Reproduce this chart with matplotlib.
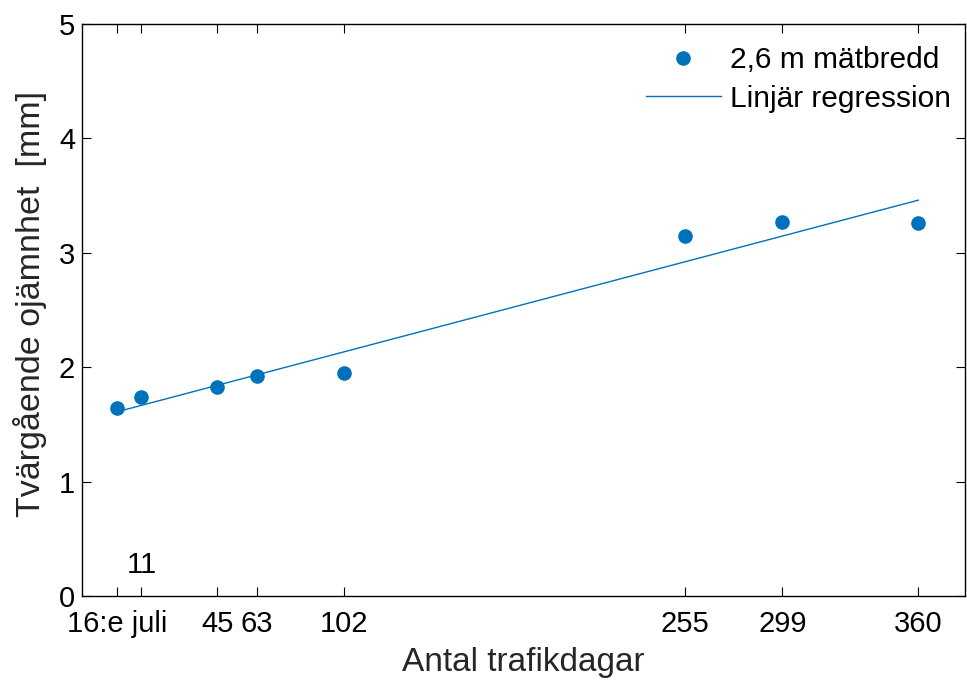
import numpy as np
import matplotlib
matplotlib.use("Agg")
from matplotlib import pyplot as plt

plt.rcParams['font.family'] = ['Liberation Sans', 'DejaVu Sans']

# data
days = [0, 11, 45, 63, 102, 255, 299, 360]
unevenness = [1.64, 1.74, 1.83, 1.92, 1.95, 3.15, 3.27, 3.26]
fit_x = [0, 360]
fit_y = [1.61, 3.46]
tick_pos = [0, 11, 45, 63, 102, 255, 299, 360]
tick_labels = ['16:e juli', '', '45', '63', '102', '255', '299', '360']

BLUE = '#0072BD'

fig = plt.figure(figsize=(9.67, 6.8), dpi=100)
ax = fig.add_axes([82 / 967, 1 - 596 / 680, (965 - 82) / 967, (596 - 24) / 680])

ax.plot(days, unevenness, 'o', color=BLUE, markersize=9.5, label='2,6 m mätbredd')
ax.plot(fit_x, fit_y, '-', color=BLUE, linewidth=1.0, label='Linjär regression')

ax.text(11, 0.27, '11', fontsize=21, ha='center', va='center')

ax.set_xlim(-15.7, 381)
ax.set_ylim(0, 5)
ax.set_xticks(tick_pos)
ax.set_xticklabels(tick_labels)
ax.set_yticks([0, 1, 2, 3, 4, 5])
ax.tick_params(direction='in', length=6.5, width=0.8, top=True, right=True, labelsize=21)
ax.tick_params(axis='x', pad=10)
ax.tick_params(axis='y', pad=5)
for s in ax.spines.values():
    s.set_linewidth(1.0)

ax.set_xlabel('Antal trafikdagar', fontsize=24, color='#262626')
ax.set_ylabel('Tvärgående ojämnhet  [mm]', fontsize=24.5, color='#262626')
ax.xaxis.set_label_coords(0.5, -0.09)
ax.yaxis.set_label_coords(-0.04, 0.51)

ax.legend(loc='upper right', bbox_to_anchor=(1.009, 1.0), frameon=False, fontsize=21.5,
          handlelength=2.5, handletextpad=0.3, borderaxespad=0.35, labelspacing=0.35)

fig.savefig('out.png', dpi=100)
